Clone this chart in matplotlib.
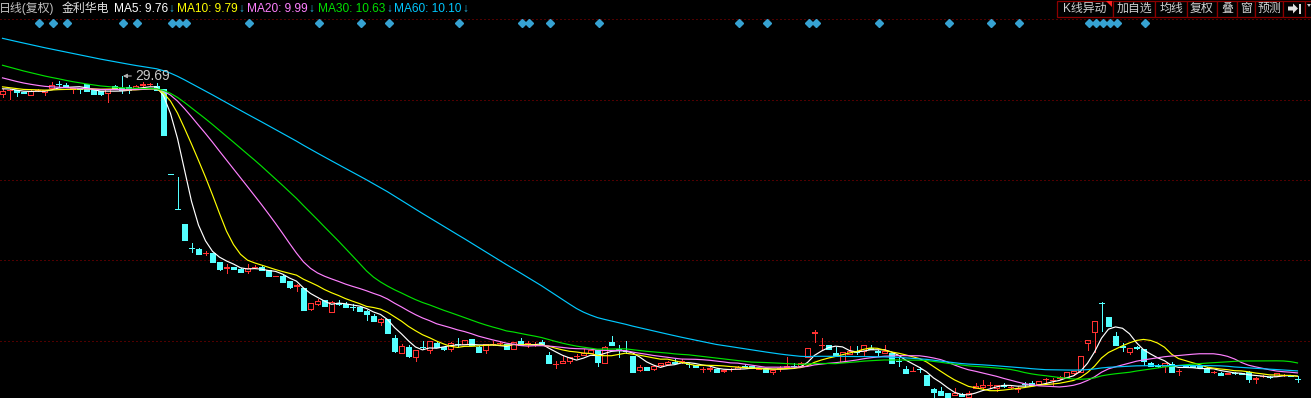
import matplotlib
matplotlib.use("Agg")
import matplotlib.pyplot as plt
import matplotlib.transforms as mtransforms
from matplotlib.patches import Rectangle, Polygon
import numpy as np
import pandas as pd

plt.rcParams['font.family'] = ['Liberation Sans', 'Noto Sans CJK SC', 'DejaVu Sans']

# ---------------- data ----------------
# closes before the first visible bar (only used to seed the moving averages)
prior_close = [35.2, 34.9, 35.1, 34.8, 35.0, 34.6, 34.9, 34.7, 34.5, 34.8,
               34.4, 34.6, 34.3, 34.5, 34.2, 34.0, 33.8, 34.1, 33.6, 33.9,
               33.4, 33.7, 33.2, 33.5, 33.0, 33.3, 32.9, 33.1, 32.7, 32.9,
               32.6, 32.5, 32.3, 32.4, 32.1, 32.2, 31.9, 32.0, 31.8, 31.9,
               31.6, 31.2, 30.9, 30.6, 30.4, 30.2, 30.0, 29.8, 29.6, 29.5,
               29.4, 29.3, 29.1, 29.2, 28.9, 29.0, 28.8, 29.0, 28.9, 28.8]

open_ = [28.52, 28.73, 28.76, 28.65, 28.41, 28.73, 28.63, 28.89, 29.18, 29.11,
         28.86, 28.87, 29.14, 28.76, 28.70, 28.54, 29.03, 28.87, 28.98, 28.83,
         29.09, 29.14, 29.05, 28.81, 23.18, 20.88, 19.89, 18.32, 18.26, 17.94,
         17.97, 17.38, 17.00, 17.05, 16.93, 16.80, 17.01, 17.07, 16.82, 16.44,
         16.48, 16.12, 15.79, 15.65, 14.27, 14.58, 14.86, 14.09, 14.65, 14.58,
         14.41, 14.40, 14.15, 13.82, 13.38, 13.60, 12.34, 11.35, 11.77, 11.11,
         11.77, 11.55, 12.03, 11.73, 11.60, 11.96, 11.95, 12.28, 11.77, 11.55,
         11.93, 11.98, 11.95, 11.62, 12.15, 11.98, 11.93, 12.10, 11.22, 10.60,
         10.67, 10.84, 11.13, 11.20, 11.37, 11.55, 10.71, 12.06, 11.62, 11.50,
         11.15, 10.23, 10.40, 10.27, 10.53, 10.61, 10.78, 10.79, 10.62, 10.56,
         10.26, 10.30, 10.27, 10.16, 10.26, 10.29, 10.49, 10.49, 10.30, 10.27,
         10.12, 10.33, 10.42, 10.50, 10.51, 11.11, 12.68, 11.86, 11.88, 11.37,
         10.78, 11.27, 11.45, 11.50, 11.66, 11.45, 11.37, 11.37, 10.84, 10.29,
         10.15, 10.29, 9.90, 8.97, 8.84, 8.68, 8.55, 8.62, 8.42, 9.01,
         9.08, 9.22, 9.01, 9.21, 9.11, 8.97, 9.29, 9.34, 9.30, 9.60,
         9.55, 9.68, 9.74, 10.01, 10.12, 12.03, 12.76, 14.69, 13.75, 12.48,
         11.78, 11.44, 11.72, 11.60, 10.67, 10.53, 10.49, 10.62, 10.17, 10.50,
         10.46, 10.46, 10.38, 10.08, 10.01, 9.94, 10.03, 10.00, 10.12, 9.66,
         9.82, 9.76, 9.83, 9.88, 9.84, 9.64]

high = [28.81, 28.81, 28.76, 28.66, 28.73, 28.83, 28.76, 29.29, 29.34, 29.21,
        28.89, 28.87, 29.16, 28.79, 28.70, 28.86, 29.06, 29.69, 29.11, 29.06,
        29.29, 29.25, 29.25, 28.83, 23.18, 23.02, 19.89, 18.63, 18.27, 18.07,
        17.99, 17.38, 17.24, 17.05, 16.95, 17.24, 17.18, 17.08, 16.85, 16.48,
        16.49, 16.12, 15.92, 15.65, 14.66, 14.95, 14.86, 14.79, 14.86, 14.71,
        14.60, 14.40, 14.17, 13.91, 13.69, 13.60, 12.54, 11.93, 11.88, 11.55,
        12.17, 12.15, 12.05, 11.75, 12.08, 12.32, 12.21, 12.28, 11.78, 11.95,
        12.17, 12.10, 11.95, 12.06, 12.32, 12.15, 12.10, 12.21, 11.40, 10.80,
        11.15, 11.09, 11.29, 11.60, 11.55, 11.55, 11.78, 12.48, 11.88, 12.13,
        11.17, 10.56, 10.42, 10.49, 10.72, 10.79, 10.94, 10.94, 10.71, 10.56,
        10.44, 10.44, 10.38, 10.23, 10.38, 10.46, 10.62, 10.49, 10.34, 10.27,
        10.23, 10.49, 11.11, 10.67, 10.74, 11.66, 12.87, 12.32, 11.88, 11.77,
        11.42, 11.82, 11.82, 11.88, 11.88, 11.55, 11.88, 11.37, 11.11, 10.49,
        10.44, 10.41, 9.90, 9.00, 9.08, 8.70, 9.01, 8.68, 8.86, 9.38,
        9.56, 9.45, 9.21, 9.34, 9.20, 9.17, 9.41, 9.50, 9.50, 9.72,
        9.68, 9.83, 10.09, 10.16, 11.15, 12.21, 13.47, 14.75, 13.75, 12.76,
        12.00, 11.66, 11.81, 11.62, 10.78, 10.59, 10.67, 10.78, 10.29, 10.52,
        10.49, 10.49, 10.39, 10.18, 10.06, 10.05, 10.06, 10.03, 10.13, 9.78,
        9.90, 9.80, 10.03, 9.96, 9.86, 9.83]

low = [28.32, 28.17, 28.39, 28.53, 28.40, 28.70, 28.41, 28.89, 28.98, 28.93,
       28.54, 28.54, 28.70, 28.50, 28.46, 27.99, 28.83, 28.54, 28.54, 28.81,
       28.89, 29.07, 28.76, 25.78, 23.18, 20.85, 18.83, 18.04, 17.90, 17.84,
       17.38, 16.85, 16.67, 16.88, 16.72, 16.67, 16.95, 16.85, 16.45, 16.42,
       16.07, 15.65, 15.47, 14.20, 14.20, 14.56, 14.46, 14.09, 14.53, 14.40,
       14.20, 14.13, 13.54, 13.47, 13.20, 12.69, 11.42, 11.35, 11.11, 10.84,
       11.60, 11.37, 11.72, 11.58, 11.50, 11.77, 11.95, 11.88, 11.42, 11.37,
       11.91, 11.88, 11.64, 11.62, 11.85, 11.77, 11.81, 11.88, 10.71, 10.38,
       10.66, 10.71, 11.04, 11.19, 11.33, 10.51, 10.71, 11.85, 11.07, 11.33,
       10.12, 10.16, 10.23, 10.23, 10.52, 10.59, 10.66, 10.67, 10.45, 10.39,
       10.08, 10.18, 10.12, 10.09, 10.18, 10.29, 10.39, 10.36, 10.29, 10.12,
       9.96, 10.18, 10.38, 10.34, 10.51, 11.11, 12.10, 11.55, 11.60, 11.15,
       10.78, 11.27, 11.27, 11.17, 11.60, 11.17, 11.37, 10.67, 10.51, 10.05,
       10.14, 10.12, 9.23, 8.37, 8.54, 8.40, 8.54, 8.50, 8.40, 9.00,
       8.97, 9.01, 8.86, 9.08, 9.03, 8.79, 9.08, 9.23, 9.30, 9.43,
       9.23, 9.66, 9.74, 9.90, 10.12, 11.55, 11.44, 12.83, 13.16, 11.88,
       11.50, 11.29, 11.60, 10.56, 10.49, 10.43, 10.12, 10.12, 9.90, 10.46,
       10.39, 10.36, 10.09, 10.03, 9.90, 9.94, 9.96, 9.93, 9.41, 9.39,
       9.76, 9.70, 9.83, 9.83, 9.80, 9.45]

close = [28.70, 28.76, 28.61, 28.54, 28.72, 28.76, 28.74, 29.09, 29.14, 28.94,
         28.88, 28.85, 28.72, 28.52, 28.48, 28.85, 28.85, 28.76, 28.76, 29.05,
         29.13, 29.16, 28.76, 25.80, 23.18, 20.86, 18.83, 18.29, 17.93, 17.97,
         17.38, 16.90, 17.03, 16.91, 16.74, 16.98, 17.03, 16.85, 16.45, 16.46,
         16.08, 15.72, 15.82, 14.20, 14.64, 14.79, 14.48, 14.75, 14.62, 14.40,
         14.38, 14.13, 13.95, 13.47, 13.58, 12.69, 11.50, 11.84, 11.15, 11.55,
         11.74, 12.15, 11.73, 11.60, 11.99, 11.93, 12.21, 11.88, 11.42, 11.95,
         11.96, 12.00, 11.64, 12.06, 11.86, 12.00, 11.95, 11.88, 10.71, 10.63,
         10.82, 11.07, 11.17, 11.37, 11.55, 10.74, 11.77, 11.86, 11.58, 11.46,
         10.12, 10.44, 10.23, 10.49, 10.71, 10.78, 10.67, 10.81, 10.59, 10.41,
         10.29, 10.33, 10.12, 10.23, 10.29, 10.44, 10.40, 10.36, 10.32, 10.12,
         10.23, 10.35, 10.46, 10.47, 10.67, 11.66, 12.71, 11.89, 11.60, 11.15,
         11.42, 11.50, 11.42, 11.88, 11.60, 11.42, 11.50, 10.67, 10.81, 10.05,
         10.17, 10.26, 9.23, 8.79, 8.57, 8.42, 8.72, 8.50, 8.68, 9.17,
         9.23, 9.25, 9.20, 9.19, 9.13, 9.00, 9.27, 9.23, 9.50, 9.62,
         9.58, 9.74, 10.09, 10.16, 11.15, 12.21, 13.47, 14.66, 13.16, 11.88,
         11.76, 11.66, 11.69, 10.84, 10.49, 10.50, 10.67, 10.12, 10.19, 10.48,
         10.42, 10.39, 10.12, 10.11, 9.90, 10.05, 10.00, 9.96, 9.61, 9.69,
         9.84, 9.73, 10.01, 9.91, 9.81, 9.62]

event_idx = [5, 7, 9, 17, 19, 24, 25, 26, 35, 45, 51, 55, 65, 74, 75, 78, 85,
             105, 109, 115, 116, 125, 135, 141, 145, 155, 156, 157, 158, 159, 163]

ma_periods = [5, 10, 20, 30, 60]
ma_names = ["MA5", "MA10", "MA20", "MA30", "MA60"]
ma_last = ["9.76", "9.79", "9.99", "10.63", "10.10"]
period_label = "日线(复权)"
stock_name = "金利华电"
high_label = "29.69"
high_idx = 17
btn_labels = ["K线异动", "加自选", "均线", "复权", "叠", "窗", "预测"]

# ---------------- style ----------------
W, H = 1311, 398
UP = '#ff3232'
DOWN = '#54ffff'
MA_COLORS = ['#ffffff', '#ffff00', '#ff80ff', '#00e000', '#00c8ff']
GRID = '#a00000'
BTN_EDGE = '#8c0000'

fig = plt.figure(figsize=(W / 100, H / 100), dpi=100, facecolor='black')
ax = fig.add_axes([0, 0, 1, 1])
ax.set_facecolor('black')
ax.axis('off')

n = len(close)
ax.set_xlim(-2.5 / 7, (W - 2.5) / 7)
ax.set_ylim(8.37, 34.72)

# pixel transform for figure-level decorations (origin top-left)
pix = mtransforms.Affine2D().scale(1 / W, -1 / H).translate(0, 1) + fig.transFigure

# dotted horizontal grid lines (axes fractions)
for f in [0.952, 0.750, 0.548, 0.347, 0.143]:
    ax.plot([0, 1], [f, f], transform=ax.transAxes, color=GRID,
            lw=0.72, linestyle=(0, (1, 3)), antialiased=True, zorder=0.5)

# candles
bw = 0.7
lw = 0.72
for i in range(n):
    o, h, l, c = open_[i], high[i], low[i], close[i]
    if c > o:
        ax.vlines(i, c, h, color=UP, lw=lw, antialiased=False, zorder=2)
        ax.vlines(i, l, o, color=UP, lw=lw, antialiased=False, zorder=2)
        ax.add_patch(Rectangle((i - bw / 2, o), bw, c - o, fill=False,
                               edgecolor=UP, lw=lw, antialiased=False, zorder=2))
    else:
        ax.vlines(i, l, h, color=DOWN, lw=lw, antialiased=False, zorder=2)
        ax.add_patch(Rectangle((i - bw / 2, c), bw, o - c, facecolor=DOWN,
                               edgecolor=DOWN, lw=lw, antialiased=False, zorder=2))

# moving averages
all_close = pd.Series(prior_close + close)
k = len(prior_close)
for p, col in zip(ma_periods, MA_COLORS):
    ma = all_close.rolling(p).mean().to_numpy()[k:]
    ax.plot(np.arange(n), ma, color=col, lw=0.85, zorder=3)

# event diamonds
btr = mtransforms.blended_transform_factory(ax.transData, ax.transAxes)
ax.plot(np.array(event_idx) + 0.2, [0.942] * len(event_idx), linestyle='none',
        marker='D', markersize=4.4, color='#36a2d2', transform=btr, zorder=4)

# highest price annotation
ax.annotate(high_label, xy=(high_idx, high[high_idx]), xytext=(14, 0),
            textcoords='offset pixels', va='center', ha='left',
            color='#c8c8c8', fontsize=10,
            arrowprops=dict(arrowstyle='-|>', color='#b0b0b0', lw=0.8,
                            mutation_scale=6, shrinkA=1, shrinkB=1),
            zorder=5)

# header texts
hy = 8.5
fs = 8.6
fig.text(-1, hy, period_label, transform=pix, color='#c0c0c0', fontsize=fs, va='center')
fig.text(62, hy, stock_name, transform=pix, color='#e0e0e0', fontsize=fs, va='center')
name_x = [114, 177, 247, 318, 394]
arrow_x = [168, 238, 308, 386, 462]
for nm, val, col, tx, axx in zip(ma_names, ma_last, MA_COLORS, name_x, arrow_x):
    fig.text(tx, hy, f"{nm}: {val}", transform=pix, color=col, fontsize=fs, va='center')
    fig.text(axx, hy, "↓", transform=pix, color='#28b4e0', fontsize=fs, va='center')

# buttons at the top right
edges = [1057, 1113, 1155, 1187, 1217, 1237, 1255, 1283, 1305, 1318]
for j in range(len(edges) - 1):
    x0, x1 = edges[j], edges[j + 1]
    fig.patches.append(Rectangle((x0, 0.5), x1 - x0, 16.5, transform=pix,
                                 fill=True, facecolor='black', edgecolor=BTN_EDGE,
                                 lw=0.9, zorder=5))
    if j < len(btn_labels):
        fig.text((x0 + x1) / 2, 9, btn_labels[j], transform=pix, color='#d0d0d0',
                 fontsize=fs, ha='center', va='center', zorder=6)
# red corner mark on first button
fig.patches.append(Polygon([[1106, 1], [1112, 1], [1112, 7]], closed=True,
                           transform=pix, facecolor='#ff2020', edgecolor='none', zorder=6))
# "go to end" icon
fig.patches.append(Polygon([[1288, 6.5], [1293, 6.5], [1293, 3.5], [1298, 8.5],
                            [1293, 13.5], [1293, 10.5], [1288, 10.5]], closed=True,
                           transform=pix, facecolor='#e0e0e0', edgecolor='none', zorder=6))
fig.patches.append(Rectangle((1299, 3.5), 2, 10, transform=pix,
                             facecolor='#e0e0e0', edgecolor='none', zorder=6))
# small dropdown triangle
fig.patches.append(Polygon([[1307, 4], [1311, 4], [1309, 7]], closed=True,
                           transform=pix, facecolor='#d0d0d0', edgecolor='none', zorder=6))

fig.savefig('out.png', dpi=100, facecolor='black')
